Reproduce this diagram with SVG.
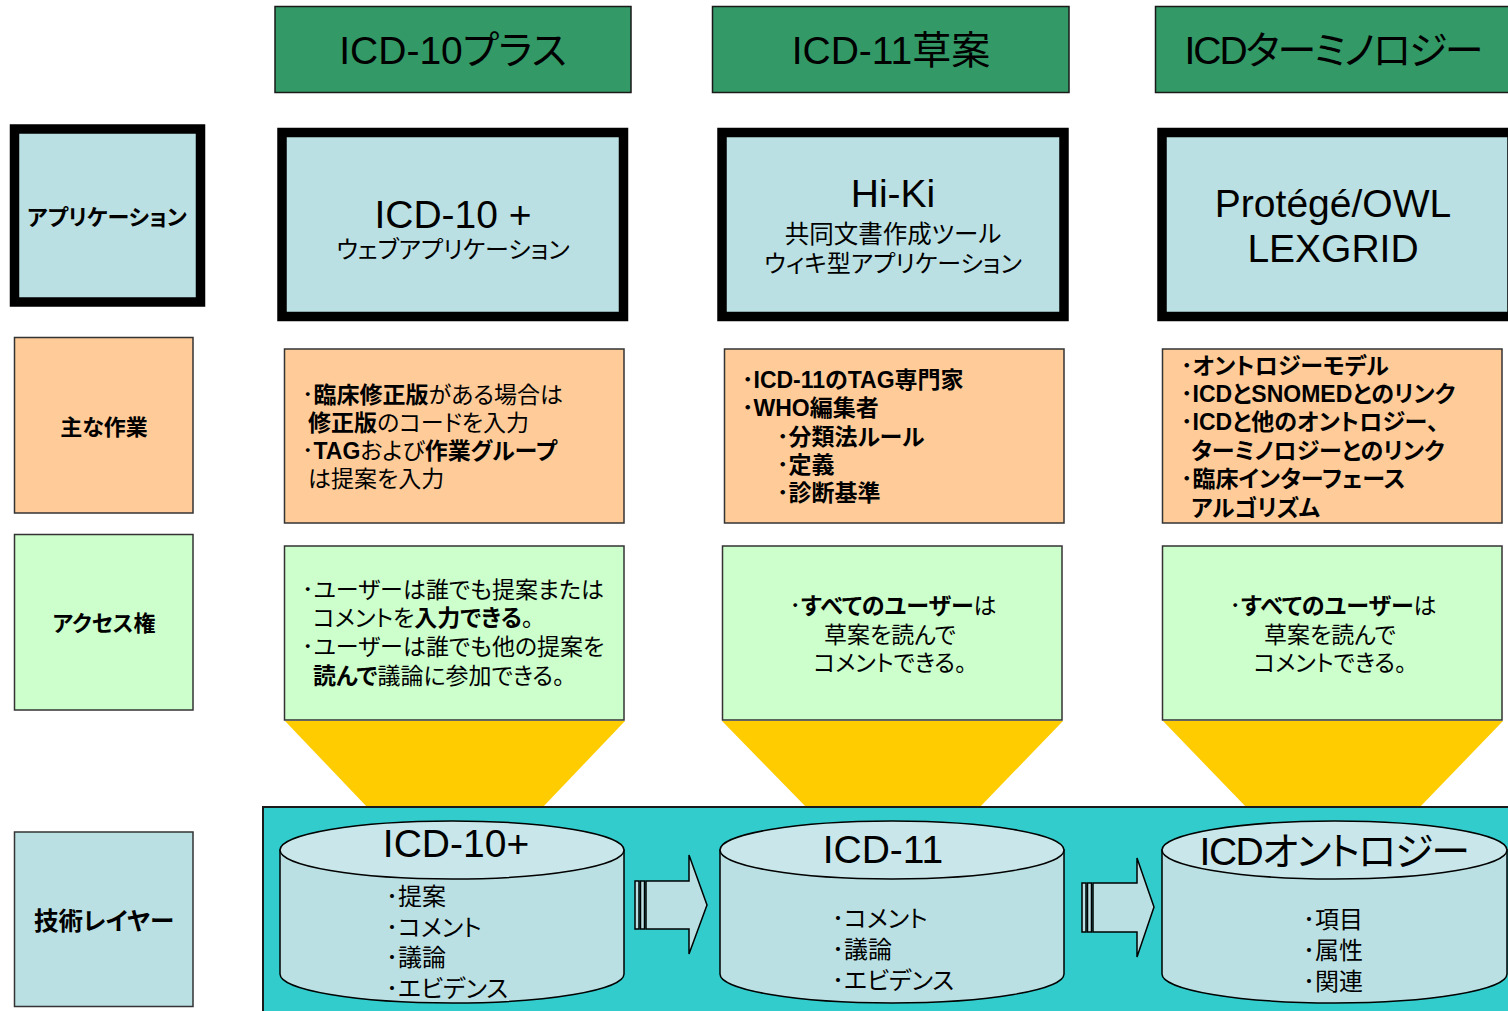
<svg xmlns="http://www.w3.org/2000/svg" width="1508" height="1011" viewBox="0 0 1508 1011">
<style>
text{font-family:"Liberation Sans","Noto Sans CJK JP",sans-serif;fill:#000;font-feature-settings:"palt"}
.hdr{fill:#339966;stroke:#1a1a1a;stroke-width:1.5}
.app{fill:#BBE0E3;stroke:#000;stroke-width:9.5}
.task{fill:#FFCC99;stroke:#333;stroke-width:1.5}
.acc{fill:#CCFFCC;stroke:#333;stroke-width:1.5}
.tech{fill:#BBE0E3;stroke:#333;stroke-width:1.5}
.big{font-size:39px}
.mid{font-size:24px}
.t{font-size:23px}
.b{font-weight:bold}
.lbl{font-size:22px;font-weight:bold}
.funnel{fill:#FFCC00}
.cyl{fill:#BBE0E3;stroke:#000;stroke-width:1.5}
.cyltop{fill:#C9E7EA;stroke:#000;stroke-width:1.5}
.arr{fill:#BBE0E3;stroke:#000;stroke-width:1.5}
.c{text-anchor:middle}
</style>

<!-- funnels (behind panel) -->
<g id="funnels">
<polygon class="funnel" points="285,721 625,721 542,808 368,808"/>
<polygon class="funnel" points="722,721 1063,721 979,808 807,808"/>
<polygon class="funnel" points="1163,721 1503,721 1419,808 1247,808"/>
</g>

<!-- teal technical panel -->
<g id="panel">
<rect x="263" y="807" width="1250" height="210" fill="#33CCCC" stroke="#1a1a1a" stroke-width="2"/>
</g>

<!-- headers -->
<g id="hdr1"><rect class="hdr" x="275" y="6.5" width="356" height="86"/><text class="big c" x="453" y="64">ICD-10プラス</text></g>
<g id="hdr2"><rect class="hdr" x="712.5" y="6.5" width="356.5" height="86"/><text class="big c" x="891" y="64">ICD-11草案</text></g>
<g id="hdr3"><rect class="hdr" x="1155.5" y="6.5" width="360" height="86"/><text class="big c" x="1333" y="64" style="letter-spacing:-2px">ICDターミノロジー</text></g>

<!-- row labels -->
<g id="lbl-app"><rect class="app" x="14.5" y="129" width="186" height="173" stroke-width="9"/><text class="lbl c" x="107" y="225">アプリケーション</text></g>
<g id="lbl-task"><rect class="task" x="14.5" y="337.5" width="178.5" height="175.5"/><text class="lbl c" x="104" y="435">主な作業</text></g>
<g id="lbl-acc"><rect class="acc" x="14.5" y="534.5" width="178.5" height="175.5"/><text class="lbl c" x="104" y="631">アクセス権</text></g>
<g id="lbl-tech"><rect class="tech" x="14.5" y="832" width="178.5" height="174.5"/><text class="c" x="104" y="930" style="font-size:24.5px;font-weight:bold">技術レイヤー</text></g>

<!-- application boxes -->
<g id="app1"><rect class="app" x="282" y="132.5" width="341.5" height="184"/>
<text class="big c" x="453" y="228">ICD-10 +</text>
<text class="mid c" x="453" y="258">ウェブアプリケーション</text></g>
<g id="app2"><rect class="app" x="722" y="132.5" width="342" height="184"/>
<text class="big c" x="893" y="207">Hi-Ki</text>
<text class="mid c" x="893" y="243" style="font-size:24.5px">共同文書作成ツール</text>
<text class="mid c" x="893" y="272">ウィキ型アプリケーション</text></g>
<g id="app3"><rect class="app" x="1162" y="132.5" width="350" height="184"/>
<text class="big c" x="1333" y="217">Protégé/OWL</text>
<text class="big c" x="1333" y="262">LEXGRID</text></g>

<!-- main tasks -->
<g id="task1"><rect class="task" x="284.5" y="349" width="339.5" height="174"/>
<text class="t" x="302" y="403">･<tspan class="b">臨床修正版</tspan>がある場合は</text>
<text class="t" x="308" y="431"><tspan class="b">修正版</tspan>のコードを入力</text>
<text class="t" x="302" y="459">･<tspan class="b">TAG</tspan>および<tspan class="b">作業グループ</tspan></text>
<text class="t" x="308" y="487">は提案を入力</text></g>
<g id="task2"><rect class="task" x="724.5" y="349" width="339.5" height="174"/>
<g class="b">
<text class="t" x="742" y="388">･ICD-11のTAG専門家</text>
<text class="t" x="742" y="416">･WHO編集者</text>
<text class="t" x="777" y="445">･分類法ルール</text>
<text class="t" x="777" y="473">･定義</text>
<text class="t" x="777" y="501">･診断基準</text></g></g>
<g id="task3"><rect class="task" x="1162.5" y="349" width="339.5" height="174"/>
<g class="b">
<text class="t" x="1181" y="374">･オントロジーモデル</text>
<text class="t" x="1181" y="402">･ICDとSNOMEDとのリンク</text>
<text class="t" x="1181" y="430">･ICDと他のオントロジー、</text>
<text class="t" x="1191" y="459">ターミノロジーとのリンク</text>
<text class="t" x="1181" y="487">･臨床インターフェース</text>
<text class="t" x="1191" y="516">アルゴリズム</text></g></g>

<!-- access -->
<g id="acc1"><rect class="acc" x="284.5" y="546" width="339.5" height="174"/>
<text class="t" x="302" y="598">･ユーザーは誰でも提案または</text>
<text class="t" x="313" y="626">コメントを<tspan class="b">入力できる</tspan>。</text>
<text class="t" x="302" y="655">･ユーザーは誰でも他の提案を</text>
<text class="t" x="313" y="684"><tspan class="b">読んで</tspan>議論に参加できる。</text></g>
<g id="acc2"><rect class="acc" x="722.5" y="546" width="339.5" height="174"/>
<text class="t c" x="893" y="614">･<tspan class="b">すべてのユーザー</tspan>は</text>
<text class="t c" x="890" y="643">草案を読んで</text>
<text class="t c" x="890" y="671">コメントできる。</text></g>
<g id="acc3"><rect class="acc" x="1162.5" y="546" width="339.5" height="174"/>
<text class="t c" x="1333" y="614">･<tspan class="b">すべてのユーザー</tspan>は</text>
<text class="t c" x="1330" y="643">草案を読んで</text>
<text class="t c" x="1330" y="671">コメントできる。</text></g>

<!-- cylinders -->
<g id="db1">
<path class="cyl" d="M280,850 L280,974 A172,29 0 0 0 624,974 L624,850 Z"/>
<ellipse class="cyltop" cx="452" cy="850" rx="172" ry="29"/>
<text class="big c" x="456" y="857">ICD-10+</text>
<text class="mid" x="386" y="905">･提案</text>
<text class="mid" x="386" y="936">･コメント</text>
<text class="mid" x="386" y="966">･議論</text>
<text class="mid" x="386" y="997">･エビデンス</text></g>
<g id="db2">
<path class="cyl" d="M720,850 L720,974 A172,29 0 0 0 1064,974 L1064,850 Z"/>
<ellipse class="cyltop" cx="892" cy="850" rx="172" ry="29"/>
<text class="big c" x="883" y="863">ICD-11</text>
<text class="mid" x="832" y="927">･コメント</text>
<text class="mid" x="832" y="958">･議論</text>
<text class="mid" x="832" y="989">･エビデンス</text></g>
<g id="db3">
<path class="cyl" d="M1162,850 L1162,974 A172.5,29 0 0 0 1507,974 L1507,850 Z"/>
<ellipse class="cyltop" cx="1334.5" cy="850" rx="172.5" ry="29"/>
<text class="big c" x="1334" y="865" style="letter-spacing:-1.5px">ICDオントロジー</text>
<text class="mid" x="1303" y="928">･項目</text>
<text class="mid" x="1303" y="959">･属性</text>
<text class="mid" x="1303" y="990">･関連</text></g>

<!-- connectors -->
<g id="connectors">
<g id="arrow1">
<rect class="arr" x="635" y="881" width="4" height="48"/>
<rect class="arr" x="640.5" y="881" width="4" height="48"/>
<path class="arr" d="M646,881 L689,881 L689,855 L707,905 L689,954 L689,929 L646,929 Z"/>
</g>
<g id="arrow2">
<rect class="arr" x="1082" y="883" width="4" height="49"/>
<rect class="arr" x="1087.5" y="883" width="4" height="49"/>
<path class="arr" d="M1093,883 L1137,883 L1137,858 L1154,907 L1137,957 L1137,932 L1093,932 Z"/>
</g>
</g>
</svg>
